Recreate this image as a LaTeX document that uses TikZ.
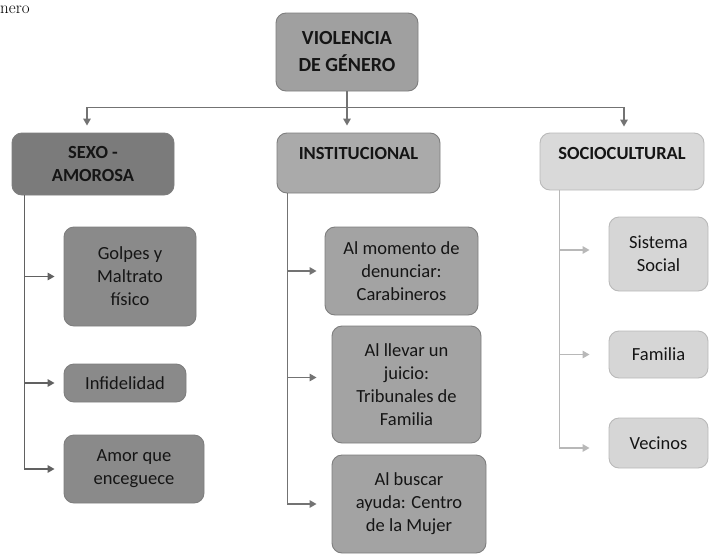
\documentclass[tikz,border=0pt]{standalone}
\usepackage{fontspec}
\setmainfont{Carlito}
\newfontfamily\captionserif{Latin Modern Roman}
\usetikzlibrary{arrows.meta,calc}
\definecolor{cTop}{HTML}{A0A0A0}
\definecolor{cSexo}{HTML}{7B7B7B}
\definecolor{cSexoKid}{HTML}{8A8A8A}
\definecolor{cInst}{HTML}{AAAAAA}
\definecolor{cInstKid}{HTML}{A3A3A3}
\definecolor{cSoc}{HTML}{D9D9D9}
\definecolor{cSocKid}{HTML}{D6D6D6}
\definecolor{cEdge}{HTML}{7E7E7E}
\definecolor{cEdgeLight}{HTML}{B9B9B9}
\definecolor{cTxt}{HTML}{151515}
\tikzset{
  box/.style={draw=cEdge, line width=0.9pt, rounded corners=10pt, inner sep=0pt,
    align=center, text=cTxt, font=\fontsize{18.5}{23}\selectfont},
  headbox/.style={box, font=\fontsize{18.5}{23}\selectfont\bfseries},
  conn/.style={line width=1.6pt, -{Triangle[length=7pt,width=7.5pt]}},
  tconn/.style={conn, draw=black!55},
  lconn/.style={conn, draw=black!62},
  mconn/.style={conn, draw=black!55},
  rconn/.style={conn, draw=black!28},
}
\begin{document}
\begin{tikzpicture}[x=1pt,y=-1pt]
\useasboundingbox (0,0) rectangle (709,554);
% cropped caption fragment
\node[anchor=base west, inner sep=0pt, font=\captionserif\fontsize{17}{20}\selectfont] (cap) at (0,13) {nero};
% top
\node[headbox, fill=cTop, minimum width=142, minimum height=78,
  font=\fontsize{20}{27}\selectfont\bfseries] (top) at (347,52) {VIOLENCIA\\DE GÉNERO};
% level 1
\node[headbox, fill=cSexo, minimum width=162, minimum height=62] (sexo) at (93,164) {SEXO -\\AMOROSA};
\node[headbox, fill=cInst, minimum width=163, minimum height=60, text depth=20pt] (inst) at (358.5,163) {INSTITUCIONAL};
\node[headbox, fill=cSoc, draw=cEdgeLight, minimum width=164, minimum height=57, text depth=16pt] (soc) at (622,161.5) {SOCIOCULTURAL};
% sexo children
\node[box, fill=cSexoKid, minimum width=132, minimum height=99] (golpes) at (130,276.5) {Golpes y\\Maltrato\\físico};
\node[box, fill=cSexoKid, minimum width=122, minimum height=38] (infid) at (125,383) {Infidelidad};
\node[box, fill=cSexoKid, minimum width=140, minimum height=68] (amor) at (134,469) {Amor que\\enceguece};
% institucional children
\node[box, fill=cInstKid, minimum width=153, minimum height=88] (mom) at (401.5,271) {Al momento de\\denunciar:\\Carabineros};
\node[box, fill=cInstKid, minimum width=149, minimum height=117] (llevar) at (406.5,384.5) {Al llevar un\\juicio:\\Tribunales de\\Familia};
\node[box, fill=cInstKid, minimum width=154, minimum height=98] (buscar) at (409,504) {Al buscar\\ayuda: Centro\\de la Mujer};
% sociocultural children
\node[box, fill=cSocKid, draw=cEdgeLight, minimum width=99, minimum height=74] (sistema) at (658.5,254) {Sistema\\Social};
\node[box, fill=cSocKid, draw=cEdgeLight, minimum width=99, minimum height=47] (familia) at (658.5,354.5) {Familia};
\node[box, fill=cSocKid, draw=cEdgeLight, minimum width=99, minimum height=50] (vecinos) at (658.5,443) {Vecinos};
% top connectors
\coordinate (hub) at ($(top.south)+(0,16)$);
\draw[tconn, shorten >=7pt] (top.south) -- (hub) -| ($(sexo.north)+(-6,0)$);
\draw[tconn, shorten >=7pt] (top.south) -- (hub |- inst.north);
\draw[tconn, shorten >=6pt] (top.south) -- (hub) -| ($(soc.north)+(2,0)$);
% left branch
\coordinate (ls) at ($(sexo.south west)+(13,0)$);
\draw[lconn, shorten >=9pt] (ls) |- (golpes.west);
\draw[lconn, shorten >=9pt] (ls) |- (infid.west);
\draw[lconn, shorten >=9pt] (ls) |- (amor.west);
% middle branch
\coordinate (ms) at ($(inst.south west)+(11,0)$);
\draw[mconn, shorten >=8pt] (ms) |- (mom.west);
\draw[mconn, shorten >=15pt] (ms) |- ($(llevar.west)+(0,-7)$);
\draw[mconn, shorten >=15pt] (ms) |- (buscar.west);
% right branch
\coordinate (rs) at ($(soc.south west)+(20,0)$);
\draw[rconn, shorten >=19pt] (rs) |- ($(sistema.west)+(0,-4)$);
\draw[rconn, shorten >=19pt] (rs) |- (familia.west);
\draw[rconn, shorten >=19pt] (rs) |- ($(vecinos.west)+(0,5)$);
\end{tikzpicture}
\end{document}
